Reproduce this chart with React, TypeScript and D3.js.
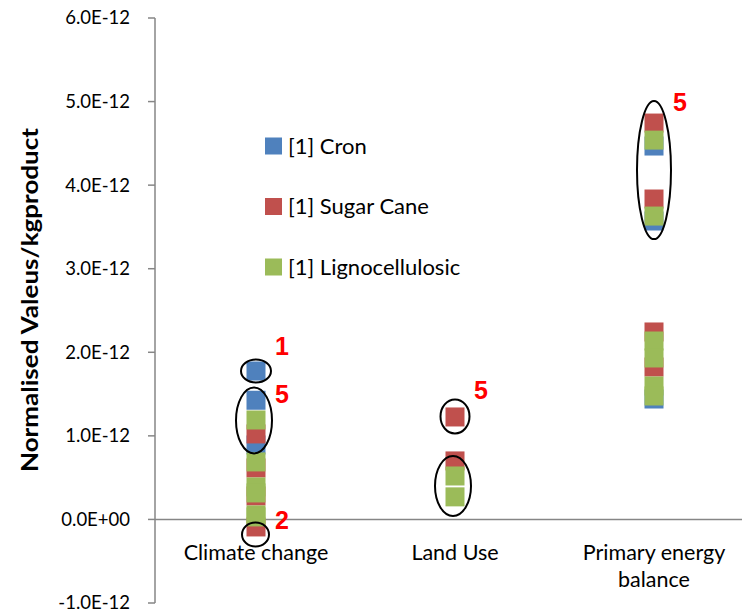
import React from "react";
import * as d3 from "d3";

const categories = ["Climate change", "Land Use", "Primary energy balance"];
const categoryLines = [["Climate change"], ["Land Use"], ["Primary energy", "balance"]];
const seriesNames = ["[1] Cron", "[1] Sugar Cane", "[1] Lignocellulosic"];
const seriesColors = ["#4F81BD", "#C0504D", "#9BBB59"];

// values in units of 1E-12
const cronValues = [
  [1.776, 1.426, 0.891],
  [],
  [4.468, 3.571, 1.441],
];
const sugarValues = [
  [1.023, 0.616, 0.281, -0.09],
  [1.226, 0.7],
  [4.743, 3.834, 2.243, 1.824],
];
const ligValues = [
  [1.19, 0.688, 0.389, 0.317, 0.054, 0.03],
  [0.52, 0.27],
  [4.539, 3.63, 2.135, 1.932, 1.597, 1.477],
];
const yTicks = [-1, 0, 1, 2, 3, 4, 5, 6];

// ellipse annotations: category index, centre value, x offset (px), radii
const ellipseCat = [0, 0, 0, 1, 1, 2];
const ellipseVal = [1.776, 1.184, -0.18, 1.232, 0.4, 4.18];
const ellipseRx = [15, 18, 13.5, 14.5, 18, 17];
const ellipseRy = [11.5, 33, 12, 17, 30, 69];
const ellipseDx = [0, -2, -0.5, 0, -2, 0];

const labelCat = [0, 0, 0, 1, 2];
const labelVal = [2.08, 1.5, -0.01, 1.55, 5.0];
const labelText = ["1", "5", "2", "5", "5"];

const W = 742;
const H = 613;
const FONT = "Lato, 'Liberation Sans', sans-serif";

export default function App() {
  const x = d3.scaleBand<string>().domain(categories).range([156.5, 753.5]).padding(0);
  const y = d3.scaleLinear().domain([-1, 6]).range([603, 18]);
  const cx = (i: number) => (x(categories[i]) as number) + x.bandwidth() / 2;
  const fmt = (v: number) => (v === 0 ? "0.0E+00" : `${v.toFixed(1)}E-12`);
  const ms = 19;
  const all = [cronValues, sugarValues, ligValues];
  const axisX = 155;

  return (
    <svg width={W} height={H} style={{ position: "absolute", left: 0, top: 0, background: "#fff" }} fontFamily={FONT}>
      <rect width={W} height={H} fill="#fff" />
      {/* y axis */}
      <line x1={axisX} x2={axisX} y1={y(6)} y2={y(-1)} stroke="#868686" strokeWidth={1.5} />
      {yTicks.map((t) => (
        <g key={t}>
          <line x1={axisX - 7} x2={axisX} y1={y(t)} y2={y(t)} stroke="#868686" strokeWidth={1.5} />
          <text x={130} y={y(t)} dy="0.35em" textAnchor="end" fontSize={18.5} fill="#000">
            {fmt(t)}
          </text>
        </g>
      ))}
      {/* x axis at zero */}
      <line x1={axisX} x2={W} y1={y(0)} y2={y(0)} stroke="#868686" strokeWidth={1.5} />
      {/* category labels */}
      {categoryLines.map((lines, i) =>
        lines.map((ln, j) => (
          <text key={i + "-" + j} x={cx(i)} y={560 + j * 27} textAnchor="middle" fontSize={21.5} fill="#000">
            {ln}
          </text>
        ))
      )}
      {/* y title */}
      <text
        transform={`translate(30,${300}) rotate(-90)`}
        textAnchor="middle"
        dy="0.35em"
        fontSize={22}
        fontWeight="bold"
        fill="#000"
        textLength={344}
        lengthAdjust="spacingAndGlyphs"
      >
        Normalised Valeus/kgproduct
      </text>
      {/* markers */}
      {all.map((series, s) =>
        series.map((vals, c) =>
          vals.map((v, k) => (
            <rect
              key={`${s}-${c}-${k}`}
              x={cx(c) - ms / 2}
              y={y(v) - ms / 2}
              width={ms}
              height={ms}
              fill={seriesColors[s]}
            />
          ))
        )
      )}
      {/* ellipses */}
      {ellipseCat.map((c, i) => (
        <ellipse
          key={i}
          cx={cx(c) + ellipseDx[i]}
          cy={y(ellipseVal[i])}
          rx={ellipseRx[i]}
          ry={ellipseRy[i]}
          fill="none"
          stroke="#000"
          strokeWidth={2}
        />
      ))}
      {/* red annotation numbers */}
      {labelCat.map((c, i) => (
        <text
          key={i}
          x={cx(c) + 26}
          y={y(labelVal[i])}
          dy="0.36em"
          fontSize={25}
          fontFamily="'Liberation Sans', Arial, sans-serif"
          fontWeight="bold"
          fill="#FF0000"
          textAnchor="middle"
        >
          {labelText[i]}
        </text>
      ))}
      {/* legend */}
      {seriesNames.map((n, i) => (
        <g key={n} transform={`translate(265,${146 + i * 60.5})`}>
          <rect x={0} y={-8.5} width={17} height={17} fill={seriesColors[i]} />
          <text x={23} y={0} dy="0.35em" fontSize={22} fill="#000">
            {n}
          </text>
        </g>
      ))}
    </svg>
  );
}
